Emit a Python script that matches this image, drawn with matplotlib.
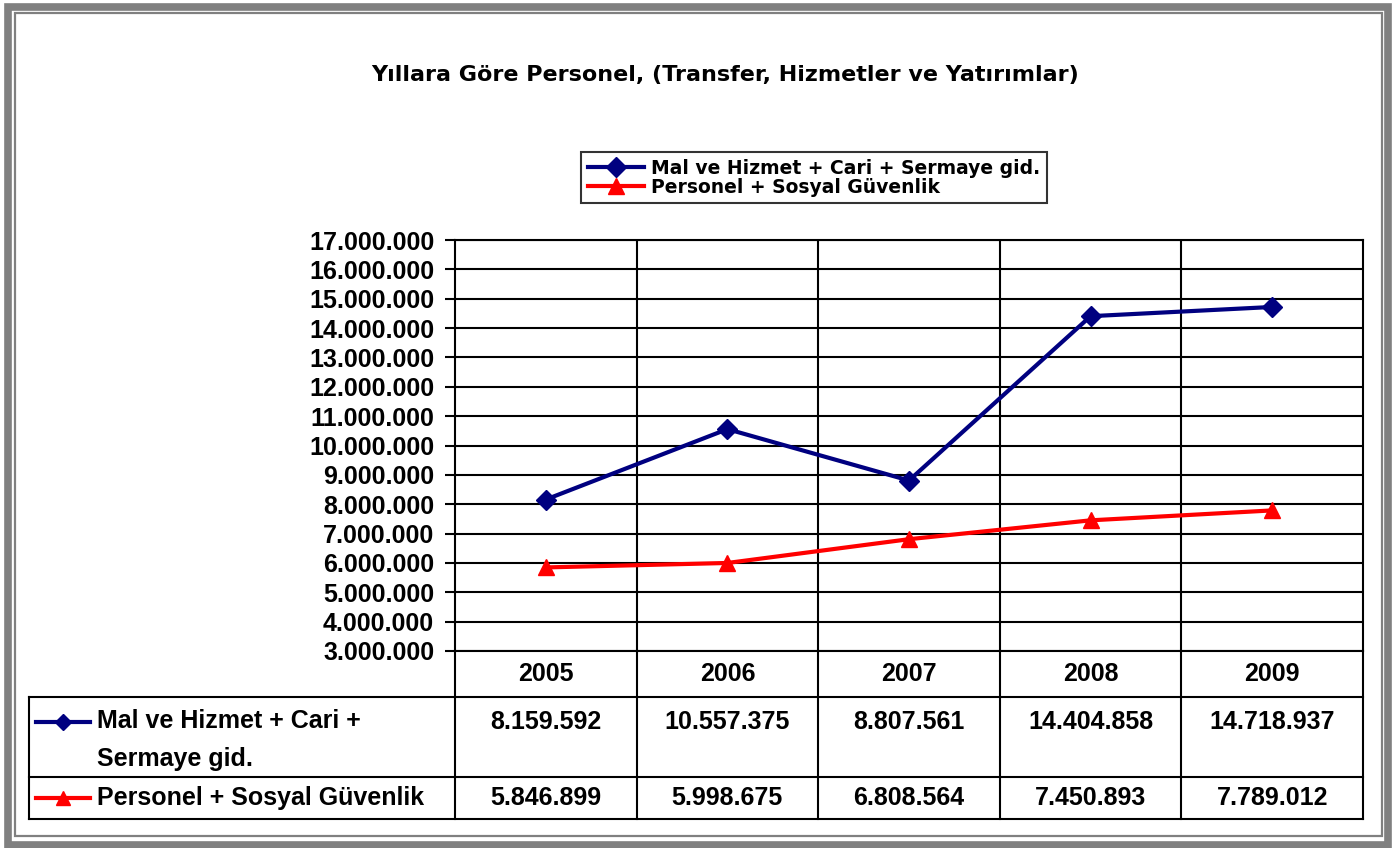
import matplotlib.pyplot as plt
from matplotlib.patches import Rectangle
from matplotlib.lines import Line2D

plt.rcParams['font.family'] = ['Liberation Sans', 'DejaVu Sans']
plt.rcParams['font.weight'] = 'bold'

# data
years = ['2005', '2006', '2007', '2008', '2009']
mal_hizmet = [8159592, 10557375, 8807561, 14404858, 14718937]
personel = [5846899, 5998675, 6808564, 7450893, 7789012]
label_mal = 'Mal ve Hizmet + Cari + Sermaye gid.'
label_mal_table = 'Mal ve Hizmet + Cari +\nSermaye gid.'
label_per = 'Personel + Sosyal Güvenlik'
title = 'Yıllara Göre Personel, (Transfer, Hizmetler ve Yatırımlar)'

blue = '#000080'
red = '#FF0000'
fs = 18

W, H = 1397, 848
fig = plt.figure(figsize=(W / 100, H / 100), dpi=100)

def fx(px):
    return px / W

def fy(py):
    return 1 - py / H

# outer frame
fig.patches.append(Rectangle((fx(7.5), fy(844.5)), fx(1388 - 7.5), 837.5 / H,
                             transform=fig.transFigure, fill=False,
                             edgecolor='#808080', linewidth=5.5))
fig.patches.append(Rectangle((fx(14.5), fy(836)), fx(1381.5 - 14.5), (836 - 13) / H,
                             transform=fig.transFigure, fill=False,
                             edgecolor='#808080', linewidth=1.6))

# main plot
x0, x1, y0, y1 = 455, 1363, 240, 651
ax = fig.add_axes([fx(x0), fy(y1), fx(x1 - x0), (y1 - y0) / H])
xs = [i + 0.5 for i in range(len(years))]
ax.plot(xs, mal_hizmet, color=blue, lw=3, marker='D', ms=10, label=label_mal, zorder=5)
ax.plot(xs, personel, color=red, lw=3, marker='^', ms=12, label=label_per, zorder=5)
ax.set_xlim(0, 5)
ax.set_ylim(3000000, 17000000)
ticks = range(3000000, 17000001, 1000000)
ax.set_yticks(ticks)
ax.set_yticklabels([f'{v:,}'.replace(',', '.') for v in ticks],
                   fontsize=fs, fontweight='bold')
ax.set_xticks([])
ax.tick_params(axis='y', length=7, width=1.5, pad=8)
ax.grid(axis='y', color='black', lw=1.5)
for i in range(1, 5):
    ax.axvline(i, color='black', lw=1.5)
for s in ax.spines.values():
    s.set_linewidth(1.5)

leg = fig.legend(loc='upper left', bbox_to_anchor=(fx(581), fy(152)),
                 frameon=True, fancybox=False, edgecolor='black', borderpad=0.35,
                 labelspacing=0.0, handlelength=3.0, handletextpad=0.4,
                 borderaxespad=0, prop={'family': 'DejaVu Sans', 'weight': 'bold', 'size': 13.5})
leg.get_frame().set_linewidth(1.5)

fig.text(fx(725), fy(75), title, ha='center', va='center', fontsize=16,
         fontweight='bold', family='DejaVu Sans')

# data table below the plot
tx0, ty1 = 29, 819
unit = (x1 - x0) / 5
left = -(x0 - tx0) / unit
tab = fig.add_axes([fx(tx0), fy(ty1), fx(x1 - tx0), (ty1 - y1) / H])
tab.set_xlim(left, 5)
tab.set_ylim(ty1, y1)
tab.axis('off')
row_a, row_b = 697, 777
kw = dict(color='black', lw=1.5, clip_on=False, solid_capstyle='projecting')
for yy in [row_a, row_b, ty1]:
    tab.plot([left, 5], [yy, yy], **kw)
tab.plot([left, left], [row_a, ty1], **kw)
for i in range(6):
    tab.plot([i, i], [y1, ty1], **kw)

for i, yr in enumerate(years):
    tab.text(xs[i], 674, yr, ha='center', va='center', fontsize=fs, fontweight='bold')
    tab.text(xs[i], 722, f'{mal_hizmet[i]:,}'.replace(',', '.'), ha='center', va='center',
             fontsize=fs, fontweight='bold')
    tab.text(xs[i], 798, f'{personel[i]:,}'.replace(',', '.'), ha='center', va='center',
             fontsize=fs, fontweight='bold')

hx = [left + (36 - tx0) / unit, left + (90 - tx0) / unit]
tab.add_line(Line2D(hx, [722, 722], color=blue, lw=3))
tab.plot([sum(hx) / 2], [722], marker='D', color=blue, ms=8)
tab.add_line(Line2D(hx, [798, 798], color=red, lw=3))
tab.plot([sum(hx) / 2], [798], marker='^', color=red, ms=10)
tab.text(left + (97 - tx0) / unit, 709, label_mal_table, ha='left', va='top',
         fontsize=fs, fontweight='bold', linespacing=1.75)
tab.text(left + (97 - tx0) / unit, 798, label_per, ha='left', va='center',
         fontsize=fs, fontweight='bold')

plt.savefig('out.png', dpi=100)
